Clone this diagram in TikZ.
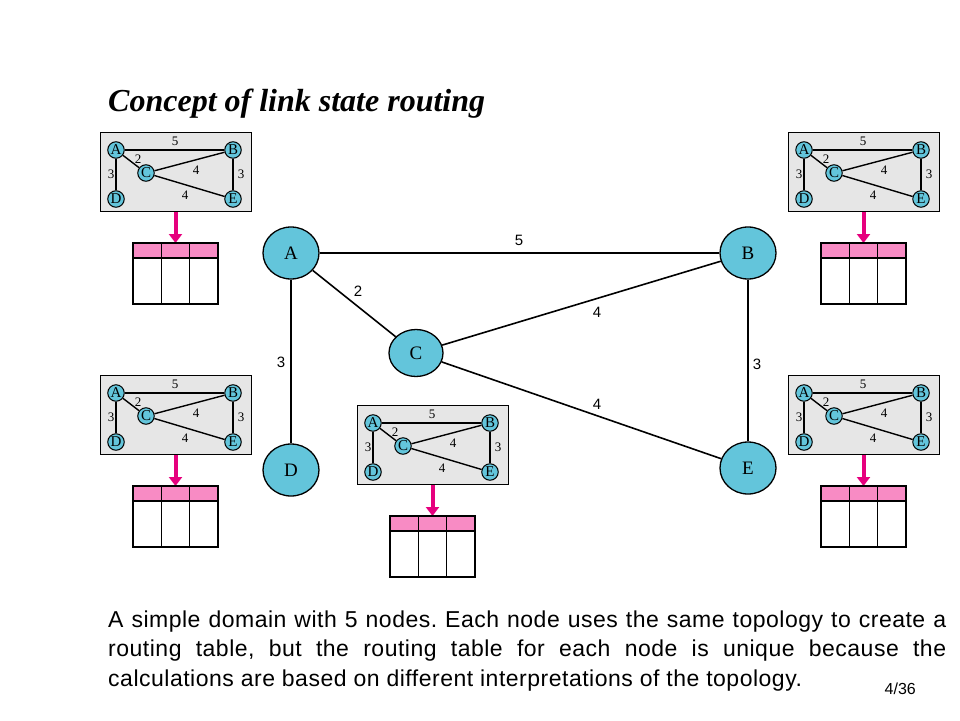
\documentclass[tikz,border=0pt]{standalone}
\usepackage{fontspec}
\setmainfont{Liberation Serif}
\newfontfamily\arialf{Liberation Sans}
\newfontfamily\descf[LetterSpace=2.2]{Liberation Sans}
\usetikzlibrary{arrows.meta,shapes.geometric}
\definecolor{nodecyan}{RGB}{99,197,219}
\definecolor{boxgray}{RGB}{230,230,230}
\definecolor{hdrpink}{RGB}{248,139,196}
\definecolor{arrmag}{RGB}{230,0,126}
\tikzset{
  bignode/.style={ellipse, draw=black, line width=1.3pt, fill=nodecyan, minimum width=56pt, minimum height=52pt, inner sep=0pt, font=\fontsize{19}{19}\selectfont},
  bigedge/.style={line width=1.6pt, draw=black},
  biglbl/.style={font=\arialf\fontsize{15}{15}\selectfont, inner sep=0pt},
  smnode/.style={circle, draw=black, line width=1pt, fill=nodecyan, minimum size=16.5pt, inner sep=0pt, font=\fontsize{15}{15}\selectfont},
  smedge/.style={line width=1.4pt, draw=black},
  smlbl/.style={font=\fontsize{13}{13}\selectfont, inner sep=0pt},
  magarrow/.style={draw=arrmag, line width=4pt, -{Triangle[width=13pt,length=9pt]}},
  tbl/.style={draw=black, line width=1.3pt},
  mini/.pic={
    \node[draw=black, line width=1pt, fill=boxgray, minimum width=151pt, minimum height=79pt, inner sep=0pt, anchor=north west] (-box) at (0,0) {};
    \node[smnode] (-A) at (16,18) {A};
    \node[smnode] (-B) at (133,18) {B};
    \node[smnode] (-C) at (46,41) {C};
    \node[smnode] (-D) at (16,67) {D};
    \node[smnode] (-E) at (133,67) {E};
    \draw[smedge] (-A) -- (-B);
    \draw[smedge] (-A) -- (-C);
    \draw[smedge] (-A) -- (-D);
    \draw[smedge] (-C) -- (-B);
    \draw[smedge] (-C) -- (-E);
    \draw[smedge] (-B) -- (-E);
    \node[smlbl] (-l5) at (75,9) {5};
    \node[smlbl] (-l2) at (38,27) {2};
    \node[smlbl] (-l4a) at (96,38) {4};
    \node[smlbl] (-l3a) at (11,42) {3};
    \node[smlbl] (-l3b) at (141,42) {3};
    \node[smlbl] (-l4b) at (85,63) {4};
    \coordinate (-top) at (75.5,111);
    \draw[magarrow] (-box.south -| -top) -- (-top);
    \fill[hdrpink] (33,111) rectangle (118,126);
    \draw[tbl] (33,111) rectangle (118,172);
    \draw[tbl] (33,126) -- (118,126);
    \draw[tbl] (61.3,111) -- (61.3,172);
    \draw[tbl] (89.7,111) -- (89.7,172);
  }
}
\begin{document}
\begin{tikzpicture}[x=1pt,y=-1pt]
\useasboundingbox (0,0) rectangle (960,720);
\fill[white] (0,0) rectangle (960,720);
% title
\node[anchor=base west, inner sep=0pt, font=\bfseries\itshape\fontsize{32}{32}\selectfont] (title) at (108,111) {Concept of link state routing};
% main graph
\node[bignode] (A) at (291,253) {A};
\node[bignode] (B) at (748,253) {B};
\node[bignode, minimum width=54pt, minimum height=47pt] (C) at (416,353) {C};
\node[bignode] (D) at (291,470) {D};
\node[bignode] (E) at (748,468) {E};
\draw[bigedge] (A) -- (B);
\draw[bigedge] (A) -- (C);
\draw[bigedge] (A) -- (D);
\draw[bigedge] (C) -- (B);
\draw[bigedge] (C) -- (E);
\draw[bigedge] (B) -- (E);
\node[biglbl] (m5) at (519,240) {5};
\node[biglbl] (m2) at (358,291) {2};
\node[biglbl] (m4a) at (597,312) {4};
\node[biglbl] (m3a) at (281,362) {3};
\node[biglbl] (m3b) at (757,364) {3};
\node[biglbl] (m4b) at (597,404) {4};
% mini diagrams
\pic (tl) at (100,132) {mini};
\pic (tr) at (788,132) {mini};
\pic (ml) at (100,375) {mini};
\pic (mr) at (788,375) {mini};
\pic (mc) at (357,405) {mini};
% bottom text
\node[anchor=base west, inner sep=0pt, text width=838pt, align=justify, font=\descf\fontsize{23}{29.5}\selectfont\frenchspacing] (desc) at (108,627) {A simple domain with 5 nodes. Each node uses the same topology to create a\linebreak routing table, but the routing table for each node is unique because the\linebreak calculations are based on different interpretations of the topology.};
\node[anchor=base east, inner sep=0pt, font=\arialf\fontsize{16}{16}\selectfont] (pg) at (916,694) {4/36};
\end{tikzpicture}
\end{document}
